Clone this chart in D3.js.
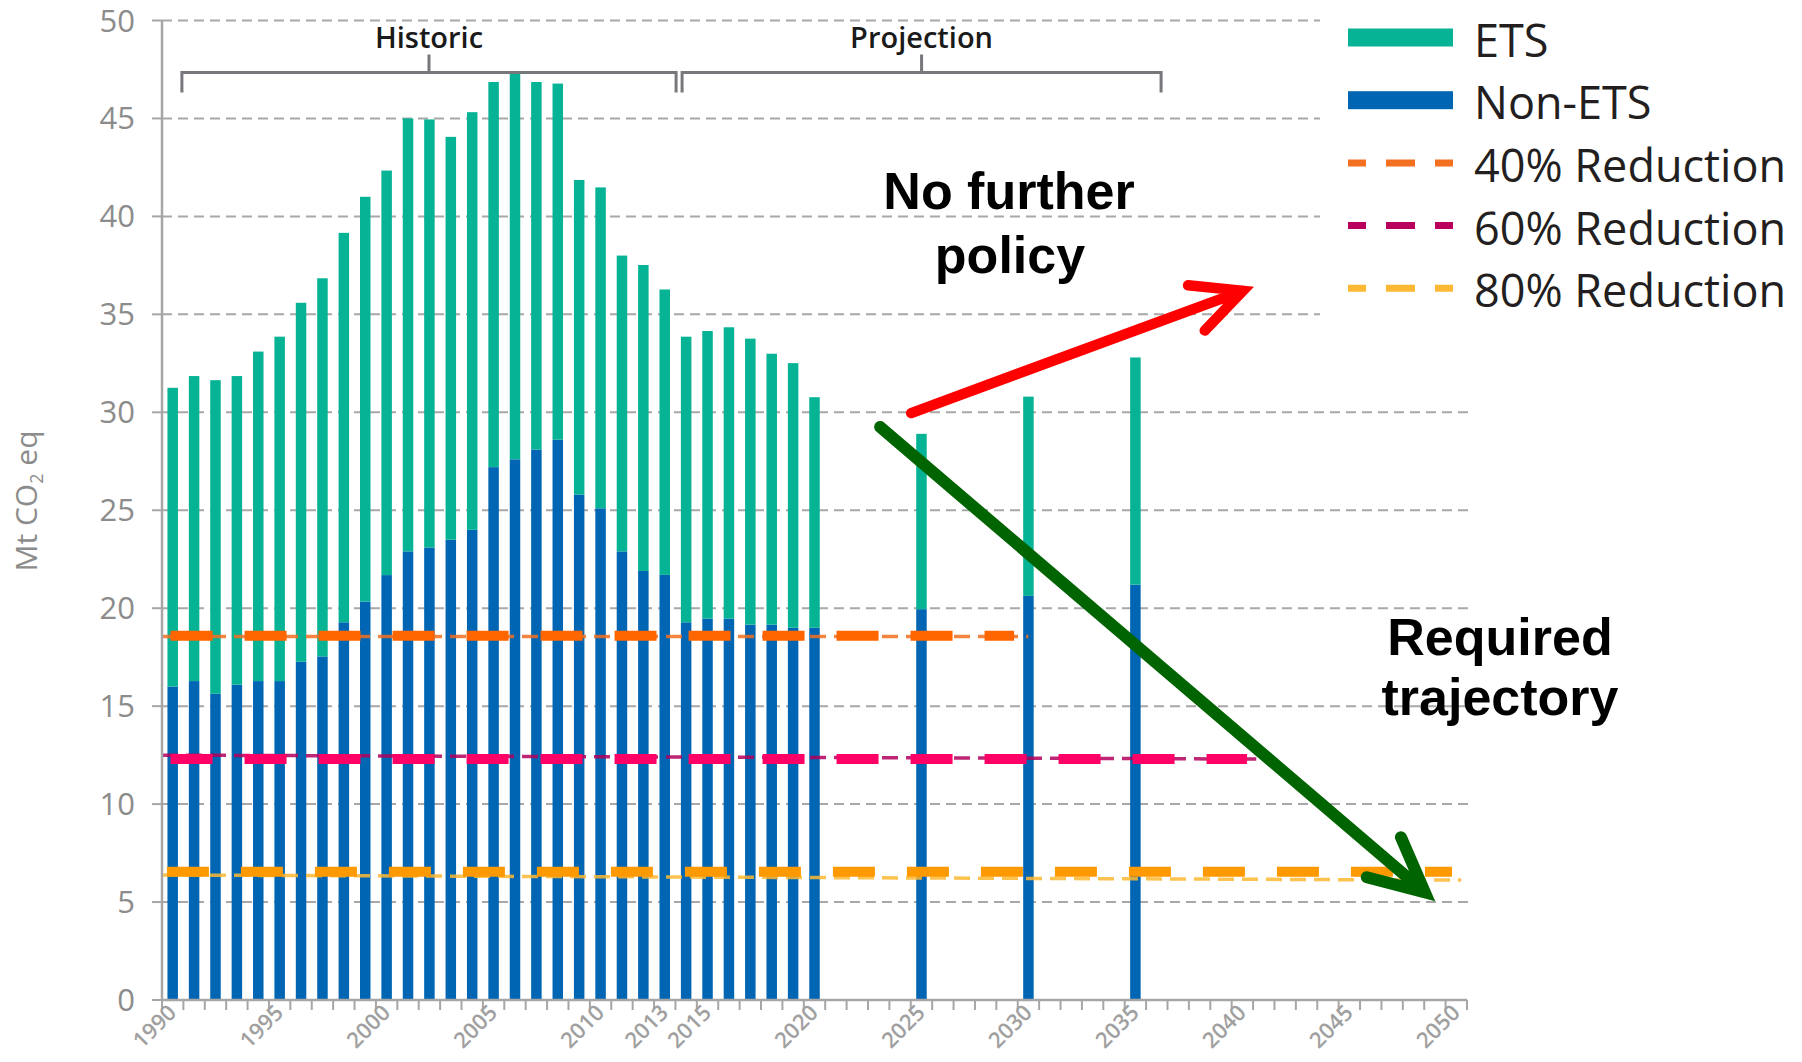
<!DOCTYPE html>
<html><head><meta charset="utf-8">
<script src="https://cdn.jsdelivr.net/npm/d3@7/dist/d3.min.js"></script>
<style>body{margin:0;background:#fff}svg{display:block}</style>
</head><body>
<svg id="chart" width="1802" height="1062"></svg>
<script>
// ---------- data ----------
const axisYears = d3.range(1990, 2051);
const tickLabelYears = [1990, 1995, 2000, 2005, 2010, 2013, 2015, 2020, 2025, 2030, 2035, 2040, 2045, 2050];
const yTicks = [0, 5, 10, 15, 20, 25, 30, 35, 40, 45, 50];

const barYears = [1990,1991,1992,1993,1994,1995,1996,1997,1998,1999,2000,2001,2002,2003,2004,2005,2006,2007,2008,2009,2010,2011,2012,2013,2014,2015,2016,2017,2018,2019,2020,2025,2030,2035];
const nonEts = [16.0,16.28,15.63,16.1,16.28,16.28,17.27,17.54,19.28,20.34,21.69,22.9,23.1,23.5,24.0,27.2,27.6,28.1,28.6,25.8,25.1,22.9,21.9,21.7,19.28,19.47,19.47,19.16,19.16,19.0,19.0,19.95,20.63,21.2];
const ets    = [15.25,15.57,16.01,15.75,16.82,17.58,18.32,19.3,19.88,20.66,20.65,22.1,21.85,20.56,21.32,19.66,19.69,18.76,18.18,16.06,16.38,15.1,15.62,14.57,14.58,14.68,14.87,14.6,13.83,13.51,11.77,8.95,10.17,11.6];

const seriesNames = ["ETS", "Non-ETS", "40% Reduction", "60% Reduction", "80% Reduction"];
const reductionThickLevel = [18.6, 12.3, 6.55];
const reductionThickFrom  = [1990.4, 1990.4, 1990.23];
const reductionThickTo    = [2029.83, 2040.72, 2050.3];
const reductionThinStart  = [18.55, 12.5, 6.38];
const reductionThinEnd    = [18.55, 12.3, 6.12];
const reductionThinTo     = [2030.5, 2041.15, 2050.73];

const periodNames = ["Historic", "Projection"];
const periodFrom = [1990.93, 2014.31];
const periodTo   = [2014.03, 2036.7];

const noPolicyArrow = [[2025.02, 29.96], [2040.52, 36.2]];
const requiredArrow = [[2023.57, 29.25], [2049.03, 5.5]];

// ---------- styles ----------
const C_ETS = "#06b394", C_NON = "#0066b3";
const thickColors = ["#ff6600", "#ff0066", "#ff9900"];
const thinColors  = ["#f37021", "#b3005c", "#fdb933"];
const legendColors = ["#06b394", "#0066b3", "#f37021", "#b8005c", "#fdb933"];

const svg = d3.select("#chart");
const x0 = 162, x1 = 1467, yBottom = 1000, yTop = 20.5;

const xBand = d3.scaleBand().domain(axisYears).range([x0, x1]).padding(0);
const xLin = d3.scaleLinear().domain([1990, 2051]).range([x0, x1]);
const y = d3.scaleLinear().domain([0, 50]).range([yBottom, yTop]);
const bw = 10.5;

// gridlines
svg.append("g").selectAll("line").data(yTicks.filter(d => d > 0)).join("line")
  .attr("x1", x0).attr("x2", 1474)
  .attr("y1", d => y(d)).attr("y2", d => y(d))
  .attr("stroke", "#a8a8a8").attr("stroke-width", 2).attr("stroke-dasharray", "10,6");

// bars
const barData = barYears.map((yr, i) => ({yr, non: nonEts[i], ets: ets[i]}));
const gb = svg.append("g");
gb.selectAll("rect.non").data(barData).join("rect").attr("class", "non")
  .attr("x", d => xBand(d.yr) + xBand.bandwidth() / 2 - bw / 2).attr("width", bw)
  .attr("y", d => y(d.non)).attr("height", d => y(0) - y(d.non)).attr("fill", C_NON);
gb.selectAll("rect.ets").data(barData).join("rect").attr("class", "ets")
  .attr("x", d => xBand(d.yr) + xBand.bandwidth() / 2 - bw / 2).attr("width", bw)
  .attr("y", d => y(d.non + d.ets)).attr("height", d => y(d.non) - y(d.non + d.ets)).attr("fill", C_ETS);

// reduction lines: thin then thick
const gr = svg.append("g");
reductionThinStart.forEach((v, i) => {
  gr.append("line")
    .attr("x1", xLin(1990)).attr("x2", xLin(reductionThinTo[i]))
    .attr("y1", y(v)).attr("y2", y(reductionThinEnd[i]))
    .attr("stroke", thinColors[i]).attr("stroke-width", 3.5).attr("stroke-dasharray", "16,8").attr("opacity", 0.85);
});
reductionThickLevel.forEach((v, i) => {
  gr.append("line")
    .attr("x1", xLin(reductionThickFrom[i])).attr("x2", xLin(reductionThickTo[i]))
    .attr("y1", y(v)).attr("y2", y(v))
    .attr("stroke", thickColors[i]).attr("stroke-width", 10).attr("stroke-dasharray", "42,32");
});

// axes
const axisColor = "#a6a6a6";
svg.append("line").attr("x1", x0).attr("x2", x0).attr("y1", yTop).attr("y2", yBottom)
  .attr("stroke", axisColor).attr("stroke-width", 2.5);
svg.append("g").selectAll("line").data(yTicks).join("line")
  .attr("x1", x0 - 10).attr("x2", x0).attr("y1", d => y(d)).attr("y2", d => y(d))
  .attr("stroke", axisColor).attr("stroke-width", 2);
svg.append("g").selectAll("text").data(yTicks).join("text")
  .attr("x", 135).attr("y", d => y(d) + 11).attr("text-anchor", "end")
  .attr("font-family", "'Open Sans', sans-serif").attr("font-size", 31).attr("fill", "#8c8c8c")
  .text(d => d);

svg.append("line").attr("x1", x0).attr("x2", x1).attr("y1", yBottom).attr("y2", yBottom)
  .attr("stroke", axisColor).attr("stroke-width", 2.5);
svg.append("g").selectAll("line").data(axisYears.concat([2051])).join("line")
  .attr("x1", d => xLin(d)).attr("x2", d => xLin(d)).attr("y1", yBottom).attr("y2", yBottom + 10)
  .attr("stroke", axisColor).attr("stroke-width", 2);
svg.append("g").selectAll("text").data(tickLabelYears).join("text")
  .attr("transform", d => `translate(${xBand(d) + xBand.bandwidth() / 2 + 5},${yBottom + 14}) rotate(-45)`)
  .attr("text-anchor", "end")
  .attr("font-family", "'Open Sans', sans-serif").attr("font-weight", 600).attr("font-size", 22).attr("fill", "#a0a0a0")
  .text(d => d);

// y-axis title
const yt = svg.append("text").attr("transform", "translate(37,501) rotate(-90)")
  .attr("text-anchor", "middle").attr("font-family", "'Open Sans', sans-serif")
  .attr("font-size", 30).attr("fill", "#8c8c8c");
yt.append("tspan").text("Mt CO");
yt.append("tspan").attr("font-size", 18).attr("dy", 6).text("2");
yt.append("tspan").attr("dy", -6).text(" eq");

// period brackets
const bracketY = 72.5;
periodNames.forEach((name, i) => {
  const a = xLin(periodFrom[i]), b = xLin(periodTo[i]), m = (a + b) / 2;
  svg.append("path")
    .attr("d", `M${a},${bracketY + 20} V${bracketY} H${b} V${bracketY + 20} M${m},${bracketY} V${bracketY - 18}`)
    .attr("fill", "none").attr("stroke", "#77787b").attr("stroke-width", 3);
  svg.append("text").attr("x", m).attr("y", 48).attr("text-anchor", "middle")
    .attr("font-family", "'Open Sans', sans-serif").attr("font-weight", 600).attr("font-size", 29).attr("fill", "#1a1a1a")
    .text(name);
});

// legend
svg.append("rect").attr("x", 1320).attr("y", 0).attr("width", 482).attr("height", 335).attr("fill", "#fff");
const lg = svg.append("g");
seriesNames.forEach((name, i) => {
  const cy = 37.5 + i * 62.7;
  if (i < 2) {
    lg.append("rect").attr("x", 1348).attr("y", cy - 9).attr("width", 105).attr("height", 18).attr("fill", legendColors[i]);
  } else {
    lg.append("line").attr("x1", 1348).attr("x2", 1453).attr("y1", cy).attr("y2", cy)
      .attr("stroke", legendColors[i]).attr("stroke-width", 7)
      .attr("stroke-dasharray", "29,20").attr("stroke-dashoffset", 11);
  }
  lg.append("text").attr("x", 1474).attr("y", cy + 19)
    .attr("font-family", "'Open Sans', sans-serif").attr("font-size", 45).attr("fill", "#231f20")
    .text(name);
});

// arrows
function arrow(pts, color, w, L) {
  const p0 = [xLin(pts[0][0]), y(pts[0][1])], p1 = [xLin(pts[1][0]), y(pts[1][1])];
  const ang = Math.atan2(p0[1] - p1[1], p0[0] - p1[0]);
  const da = 26 * Math.PI / 180;
  const a1 = [p1[0] + L * Math.cos(ang + da), p1[1] + L * Math.sin(ang + da)];
  const a2 = [p1[0] + L * Math.cos(ang - da), p1[1] + L * Math.sin(ang - da)];
  svg.append("path")
    .attr("d", `M${p0[0]},${p0[1]} L${p1[0]},${p1[1]} M${a1[0]},${a1[1]} L${p1[0]},${p1[1]} L${a2[0]},${a2[1]}`)
    .attr("fill", "none").attr("stroke", color).attr("stroke-width", w)
    .attr("stroke-linecap", "round").attr("stroke-linejoin", "miter").attr("stroke-miterlimit", 10);
}
arrow(requiredArrow, "#006400", 12, 60);
arrow(noPolicyArrow, "#ff0000", 10.5, 55);

// annotation texts
const ann = [["No further", 1009, 209], ["policy", 1010, 273], ["Required", 1500, 655], ["trajectory", 1500, 715]];
svg.append("g").selectAll("text").data(ann).join("text")
  .attr("x", d => d[1]).attr("y", d => d[2]).attr("text-anchor", "middle")
  .attr("font-family", "'Liberation Sans', Arial, sans-serif").attr("font-weight", "bold")
  .attr("font-size", 52).attr("fill", "#000")
  .text(d => d[0]);
</script>
</body></html>
